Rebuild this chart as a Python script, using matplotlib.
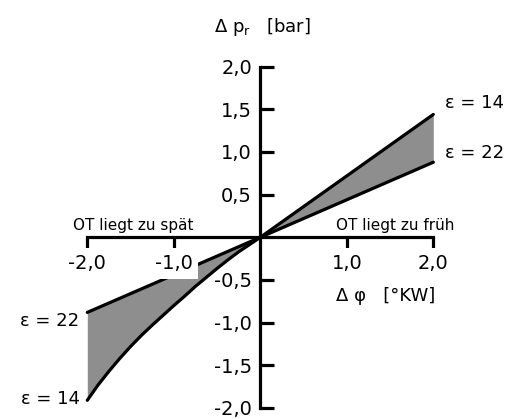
import matplotlib

matplotlib.use("Agg")
import matplotlib.pyplot as plt

plt.rcParams["font.family"] = ["DejaVu Sans"]
plt.rcParams["mathtext.default"] = "regular"

# Zuendzeitpunkt-Abweichung [°KW] vs. Druckdifferenz [bar]
phi = [-2.0, -1.875, -1.75, -1.625, -1.5, -1.375, -1.25, -1.125, -1.0,
       -0.875, -0.75, -0.625, -0.5, -0.375, -0.25, -0.125, 0.0,
       0.5, 1.0, 1.5, 2.0]
dp_eps14 = [-1.91, -1.73, -1.57, -1.42, -1.28, -1.15, -1.03, -0.915, -0.80,
            -0.69, -0.575, -0.47, -0.365, -0.265, -0.17, -0.085, 0.0,
            0.36, 0.72, 1.08, 1.44]
dp_eps22 = [-0.88, -0.825, -0.77, -0.715, -0.66, -0.605, -0.55, -0.495, -0.44,
            -0.385, -0.33, -0.275, -0.22, -0.165, -0.11, -0.055, 0.0,
            0.22, 0.44, 0.66, 0.88]

x_ticks = [-2.0, -1.0, 1.0, 2.0]
x_ticklabels = ["-2,0", "-1,0", "1,0", "2,0"]
y_ticks = [-2.0, -1.5, -1.0, -0.5, 0.5, 1.0, 1.5, 2.0]
y_ticklabels = ["-2,0", "-1,5", "-1,0", "-0,5", "0,5", "1,0", "1,5", "2,0"]

fig = plt.figure(figsize=(5.09, 4.19), dpi=100)
ax = fig.add_axes([0.1715, 0.0263, 0.6798, 0.8146])
ax.set_xlim(-2, 2)
ax.set_ylim(-2, 2)
ax.set_axisbelow(False)

ax.fill_between(phi, dp_eps14, dp_eps22, color="#8e8e8e", linewidth=0, zorder=1, clip_on=False)
ax.plot(phi, dp_eps14, color="black", lw=2.3, solid_capstyle="round",
        solid_joinstyle="round", clip_on=False, zorder=2)
ax.plot(phi, dp_eps22, color="black", lw=2.3, solid_capstyle="round",
        solid_joinstyle="round", clip_on=False, zorder=2)

for side in ("top", "right"):
    ax.spines[side].set_visible(False)
for side in ("left", "bottom"):
    ax.spines[side].set_position(("data", 0))
    ax.spines[side].set_linewidth(2.3)

ax.set_xticks(x_ticks)
ax.set_xticklabels(x_ticklabels)
ax.set_yticks(y_ticks)
ax.set_yticklabels(y_ticklabels)
ax.tick_params(axis="x", direction="out", length=10, width=2.3, pad=2, labelsize=14)
ax.tick_params(axis="y", direction="in", length=10, width=2.3, pad=6, labelsize=14)

# white box behind the x tick labels, hides the curves where they run under "-1,0"
for tick in ax.xaxis.get_major_ticks():
    tick.label1.set_bbox(dict(facecolor="white", edgecolor="none", pad=4))

ax.text(2.14, 1.58, "ε = 14", fontsize=13, ha="left", va="center")
ax.text(2.14, 0.99, "ε = 22", fontsize=13, ha="left", va="center")
ax.text(-2.09, -0.98, "ε = 22", fontsize=13, ha="right", va="center")
ax.text(-2.09, -1.89, "ε = 14", fontsize=13, ha="right", va="center")

ax.text(-2.17, 0.085, "OT liegt zu spät", fontsize=11, ha="left", va="baseline")
ax.text(2.24, 0.085, "OT liegt zu früh", fontsize=11, ha="right", va="baseline")

ax.text(0.87, -0.745, "Δ φ   [°KW]", fontsize=13, ha="left", va="baseline")
ax.text(-0.53, 2.41, "Δ p$_r$   [bar]", fontsize=13, ha="left", va="baseline")

fig.savefig("out.png", dpi=100)
plt.close(fig)
